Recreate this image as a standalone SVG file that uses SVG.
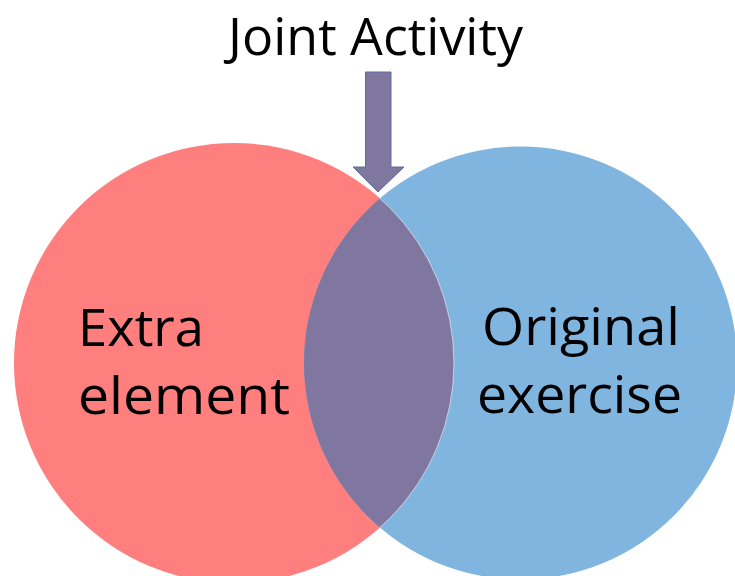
<svg xmlns="http://www.w3.org/2000/svg" width="735" height="576" viewBox="0 0 735 576">
  <style>
    .lbl { font-family: "Open Sans", "Liberation Sans", sans-serif; font-size: 51px; fill: #000000; }
  </style>
  <defs>
    <clipPath id="clipRed">
      <circle cx="234" cy="363" r="220"/>
    </clipPath>
    <clipPath id="clipBlue">
      <circle cx="520.5" cy="363" r="216.5"/>
    </clipPath>
  </defs>
  <rect x="0" y="0" width="735" height="576" fill="#ffffff"/>
  <g id="extra-element">
    <circle cx="234" cy="363" r="220" fill="#FF7F7F"/>
  </g>
  <g id="original-exercise">
    <circle cx="520.5" cy="363" r="216.5" fill="#7FB5DE"/>
  </g>
  <g id="joint-overlap">
    <circle cx="520.5" cy="363" r="216.5" fill="#7F779F" clip-path="url(#clipRed)"/>
    <circle cx="234" cy="363" r="220" fill="none" stroke="#ffffff" stroke-opacity="0.6" stroke-width="1" clip-path="url(#clipBlue)"/>
  </g>
  <g id="connectors">
    <polygon points="365.5,72 391,72 391,167 404,167 378,192 353,167 365.5,167" fill="#7F779F" stroke="#5E6F9E" stroke-width="1"/>
  </g>
  <g id="labels">
    <text class="lbl" x="228" y="55" textLength="295" lengthAdjust="spacingAndGlyphs">Joint Activity</text>
    <text class="lbl" x="78" y="346" textLength="126" lengthAdjust="spacingAndGlyphs">Extra</text>
    <text class="lbl" x="78" y="414" textLength="212" lengthAdjust="spacingAndGlyphs">element</text>
    <text class="lbl" x="482" y="345" textLength="198" lengthAdjust="spacingAndGlyphs">Original</text>
    <text class="lbl" x="477" y="413" textLength="205" lengthAdjust="spacingAndGlyphs">exercise</text>
  </g>
</svg>
